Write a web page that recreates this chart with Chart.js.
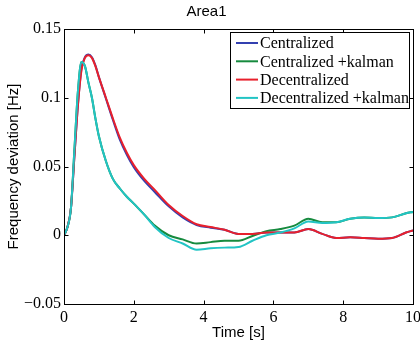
<!DOCTYPE html>
<html>
<head>
<meta charset="utf-8">
<script src="https://cdn.jsdelivr.net/npm/chart.js@4.4.1/dist/chart.umd.min.js"></script>
<style>
  html, body { margin: 0; padding: 0; background: #fff; }
  #wrap { width: 420px; height: 344px; }
</style>
</head>
<body>
<div id="wrap"><canvas id="c" width="420" height="344"></canvas></div>
<script>
// time samples [s]
const time = [0, 0.1, 0.2, 0.3, 0.4, 0.5, 0.6, 0.7, 0.8, 0.9, 1.0, 1.2, 1.4, 1.6, 1.8, 2.0, 2.3, 2.6, 3.0, 3.4, 3.8, 4.2, 4.6, 5.0, 5.4, 5.8, 6.2, 6.6, 7.0, 7.4, 7.8, 8.2, 8.6, 9.0, 9.4, 9.8, 10];

const centralized = [0, 0.006, 0.02, 0.058, 0.095, 0.121, 0.1295, 0.1315, 0.1295, 0.1235, 0.115, 0.0995, 0.084, 0.0695, 0.0585, 0.0495, 0.0395, 0.0315, 0.021, 0.013, 0.0075, 0.0055, 0.004, 0.001, 0.001, 0.002, 0.002, 0.002, 0.0045, 0.001, -0.002, -0.0015, -0.002, -0.0025, -0.002, 0.002, 0.0035];
const centralizedKalman = [0, 0.006, 0.02, 0.063, 0.105, 0.126, 0.123, 0.111, 0.1, 0.085, 0.072, 0.054, 0.041, 0.034, 0.028, 0.023, 0.015, 0.007, 0.0, -0.003, -0.006, -0.005, -0.004, -0.004, -0.0005, 0.003, 0.0045, 0.007, 0.012, 0.0095, 0.0095, 0.012, 0.013, 0.0125, 0.013, 0.016, 0.017];
const decentralized = [0, 0.006, 0.02, 0.058, 0.095, 0.12, 0.129, 0.131, 0.129, 0.123, 0.115, 0.1, 0.085, 0.071, 0.06, 0.051, 0.041, 0.033, 0.022, 0.014, 0.008, 0.006, 0.004, 0.001, 0.001, 0.002, 0.002, 0.002, 0.0045, 0.001, -0.002, -0.0015, -0.002, -0.0025, -0.002, 0.002, 0.0035];
const decentralizedKalman = [0, 0.006, 0.02, 0.063, 0.105, 0.126, 0.123, 0.111, 0.1, 0.085, 0.072, 0.054, 0.041, 0.034, 0.028, 0.023, 0.015, 0.006, -0.002, -0.006, -0.0105, -0.0095, -0.009, -0.0085, -0.004, 0.0, 0.002, 0.005, 0.010, 0.009, 0.0095, 0.012, 0.013, 0.0125, 0.013, 0.016, 0.017];

const seriesNames = ['Centralized', 'Centralized +kalman', 'Decentralized', 'Decentralized +kalman'];
const seriesColors = ['#3340b0', '#168a3e', '#e8202c', '#22c4c4'];
const seriesValues = [centralized, centralizedKalman, decentralized, decentralizedKalman];
const xTicks = [0, 2, 4, 6, 8, 10];
const yTicks = [-0.05, 0, 0.05, 0.1, 0.15];

const serif = "'Liberation Serif', 'Times New Roman', serif";
const sans = "'Liberation Sans', Arial, sans-serif";

function fmtY(v) {
  const r = Math.round(v * 100) / 100;
  return String(r).replace('-', '\u2212');
}

const frame = {
  id: 'frame',
  beforeDraw(chart) {
    const ctx = chart.ctx;
    ctx.save();
    ctx.fillStyle = '#fff';
    ctx.fillRect(0, 0, chart.width, chart.height);
    ctx.restore();
  },
  afterDatasetsDraw(chart) {
    const {ctx, chartArea: a, scales} = chart;
    const L = Math.round(a.left) + 0.5, R = Math.round(a.right) + 0.5;
    const T = Math.round(a.top) + 0.5, B = Math.round(a.bottom) + 0.5;
    ctx.save();
    ctx.strokeStyle = '#000';
    ctx.lineWidth = 1;
    ctx.strokeRect(L, T, R - L, B - T);
    ctx.beginPath();
    xTicks.forEach(v => {
      const x = Math.round(scales.x.getPixelForValue(v)) + 0.5;
      ctx.moveTo(x, B); ctx.lineTo(x, B - 4);
      ctx.moveTo(x, T); ctx.lineTo(x, T + 4);
    });
    yTicks.forEach(v => {
      const y = Math.round(scales.y.getPixelForValue(v)) + 0.5;
      ctx.moveTo(L, y); ctx.lineTo(L + 4, y);
      ctx.moveTo(R, y); ctx.lineTo(R - 4, y);
    });
    ctx.stroke();

    // legend box
    const bx = 230.5, by = 32.5, bw = 179, bh = 76;
    ctx.fillStyle = '#fff';
    ctx.fillRect(bx, by, bw, bh);
    ctx.strokeRect(bx, by, bw, bh);
    ctx.font = '16px ' + serif;
    ctx.textBaseline = 'middle';
    ctx.textAlign = 'left';
    seriesNames.forEach((name, i) => {
      const y = 43 + i * 18.3;
      ctx.strokeStyle = seriesColors[i];
      ctx.lineWidth = 2;
      ctx.beginPath();
      ctx.moveTo(236, y); ctx.lineTo(258, y);
      ctx.stroke();
      ctx.fillStyle = '#000';
      ctx.fillText(name, 260, y + 1);
    });
    ctx.restore();
  }
};

new Chart(document.getElementById('c'), {
  type: 'line',
  data: {
    datasets: seriesNames.map((name, i) => ({
      label: name,
      data: time.map((t, k) => ({x: t, y: seriesValues[i][k]})),
      borderColor: seriesColors[i],
      borderWidth: 2,
      pointRadius: 0,
      fill: false,
      cubicInterpolationMode: 'monotone',
      order: 4 - i
    }))
  },
  options: {
    responsive: false,
    animation: false,
    devicePixelRatio: 1,
    layout: {padding: {left: 0, right: 7, top: 0, bottom: 0}},
    plugins: {
      legend: {display: false},
      tooltip: {enabled: false},
      title: {
        display: true,
        text: 'Area1',
        color: '#000',
        font: {family: sans, size: 15, weight: 'normal'},
        padding: {top: 3, bottom: 8}
      }
    },
    scales: {
      x: {
        type: 'linear',
        min: 0, max: 10,
        afterBuildTicks(s) { s.ticks = xTicks.map(v => ({value: v})); },
        afterFit(s) { s.height = 40; s.paddingLeft = 0; s.paddingRight = 0; },
        grid: {display: false, drawTicks: false},
        border: {display: false},
        ticks: {color: '#000', font: {family: serif, size: 16}, padding: 4, maxRotation: 0},
        title: {display: true, text: 'Time [s]', color: '#000', font: {family: sans, size: 15}, padding: {top: 0, bottom: 2}}
      },
      y: {
        type: 'linear',
        min: -0.05, max: 0.15,
        afterBuildTicks(s) { s.ticks = yTicks.map(v => ({value: v})); },
        afterFit(s) { s.width = 64; },
        grid: {display: false, drawTicks: false},
        border: {display: false},
        ticks: {color: '#000', font: {family: serif, size: 16}, padding: 3, callback: v => fmtY(v)},
        title: {display: true, text: 'Frequency deviation [Hz]', color: '#000', font: {family: sans, size: 15}, padding: {top: 5, bottom: 0}}
      }
    }
  },
  plugins: [frame]
});
</script>
</body>
</html>
